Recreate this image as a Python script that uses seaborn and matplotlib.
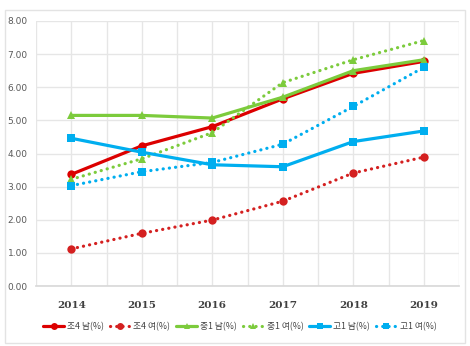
import matplotlib
matplotlib.use("Agg")
import matplotlib.pyplot as plt
import seaborn as sns
import pandas as pd
from matplotlib.lines import Line2D
from matplotlib.patches import Rectangle

years = [2014, 2015, 2016, 2017, 2018, 2019]
series_names = ["조4 남(%)", "조4 여(%)", "중1 남(%)", "중1 여(%)", "고1 남(%)", "고1 여(%)"]
elem4_m = [3.37, 4.23, 4.81, 5.65, 6.42, 6.78]
elem4_f = [1.12, 1.59, 1.99, 2.56, 3.41, 3.89]
mid1_m = [5.15, 5.15, 5.07, 5.70, 6.50, 6.83]
mid1_f = [3.22, 3.84, 4.63, 6.14, 6.83, 7.41]
high1_m = [4.46, 4.04, 3.66, 3.60, 4.36, 4.68]
high1_f = [3.03, 3.45, 3.73, 4.28, 5.42, 6.60]
y_ticks = [0, 1, 2, 3, 4, 5, 6, 7, 8]

all_vals = [elem4_m, elem4_f, mid1_m, mid1_f, high1_m, high1_f]
colors = ["#DC0000", "#D42020", "#7CCB3C", "#7CCB3C", "#00AEEF", "#00AEEF"]
dotted = [False, True, False, True, False, True]
markers = ["o", "o", "^", "^", "s", "s"]

sns.set_theme(style="white")
plt.rcParams["font.family"] = ["Noto Sans CJK KR", "DejaVu Sans"]

fig = plt.figure(figsize=(4.70, 3.46), dpi=100)
fig.patches.append(Rectangle((5 / 470, 1 - 343 / 346), 460 / 470, 333 / 346,
                             transform=fig.transFigure, fill=False,
                             edgecolor="#E3E3E3", linewidth=1.0))
ax = fig.add_axes([36 / 470, 1 - 286 / 346, 423 / 470, 265 / 346])

handles = []
for name, vals, c, dt, m in zip(series_names, all_vals, colors, dotted, markers):
    df = pd.DataFrame({"year": years, "value": vals})
    ls = (0, (0.05, 1.9)) if dt else "-"
    sns.lineplot(data=df, x="year", y="value", ax=ax, color=c, linestyle=ls,
                 linewidth=2.3, marker=m, markersize=6, markeredgewidth=0,
                 dash_capstyle="round", solid_capstyle="round", legend=False)
    handles.append(Line2D([0], [0], color=c, linestyle=ls, linewidth=2.3,
                          marker=m, markersize=5, markeredgewidth=0,
                          dash_capstyle="round"))

ax.set_xlim(2013.5, 2019.5)
ax.set_ylim(0, 8)
ax.set_yticks(y_ticks)
ax.set_yticklabels([f"{v:.2f}" for v in y_ticks], fontsize=6.5, color="#595959",
                   family=["DejaVu Sans"])
ax.set_xticks(years)
ax.set_xticklabels([str(y) for y in years], fontsize=7.5, fontweight="bold",
                   color="#404040", family=["DejaVu Serif"])
ax.set_xticks([y - 0.5 for y in years] + [2019.5], minor=True)
ax.grid(True, which="major", axis="both", color="#E6E6E6", linewidth=1.0)
ax.grid(True, which="minor", axis="x", color="#E6E6E6", linewidth=1.0)
ax.set_axisbelow(True)
for s in ["top", "right", "left"]:
    ax.spines[s].set_visible(False)
ax.spines["bottom"].set_color("#D9D9D9")
ax.tick_params(axis="x", which="both", length=0, pad=11)
ax.tick_params(axis="y", length=0, pad=6)
ax.set_xlabel("")
ax.set_ylabel("")

fig.legend(handles, series_names, loc="center", bbox_to_anchor=(0.51, 1 - 327 / 346),
           ncol=6, frameon=False, fontsize=6.3, handlelength=2.4, handletextpad=0.3,
           columnspacing=0.7, labelcolor="#404040")

fig.savefig("out.png", dpi=100)
